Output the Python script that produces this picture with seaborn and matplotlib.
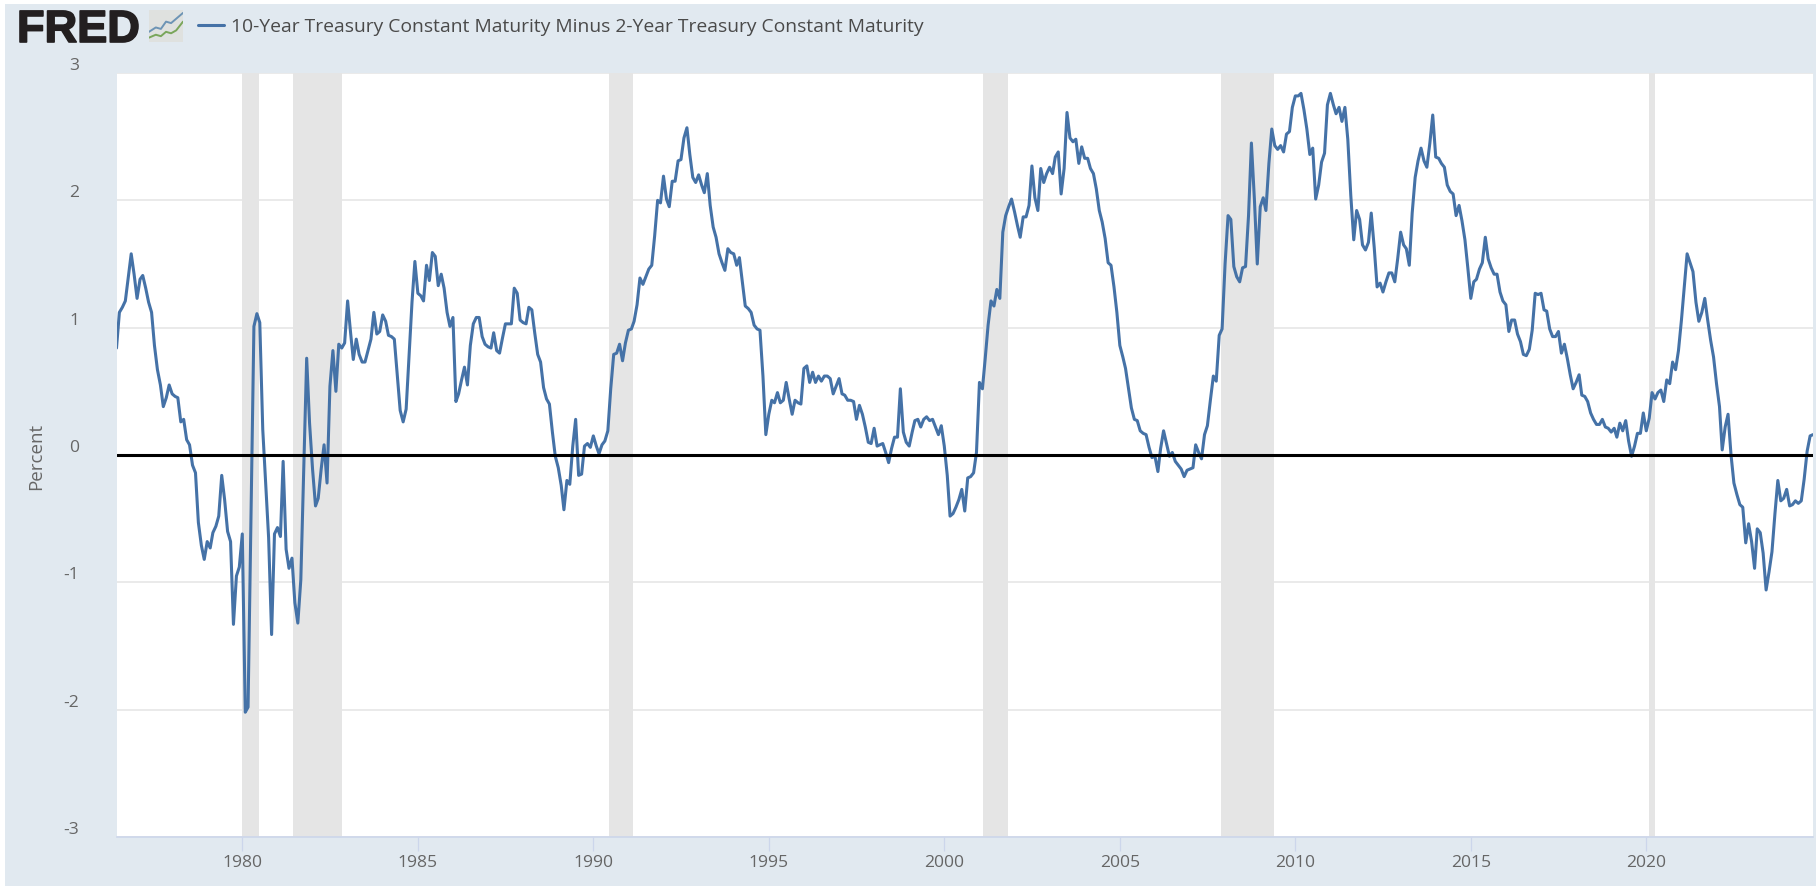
import pandas as pd
import seaborn as sns
import matplotlib.pyplot as plt
import matplotlib.dates as mdates
import matplotlib.patheffects as pe
from matplotlib.patches import Rectangle
from matplotlib.transforms import ScaledTranslation

# valores mensais, um bloco por ano (de jun/1976 a out/2024)
y1976 = [0.84, 1.12, 1.16, 1.21, 1.39, 1.58, 1.42]
y1977 = [1.23, 1.38, 1.41, 1.31, 1.20, 1.12, 0.86, 0.67, 0.55, 0.38, 0.45, 0.55]
y1978 = [0.48, 0.46, 0.45, 0.26, 0.28, 0.12, 0.08, -0.08, -0.14, -0.53, -0.71, -0.82]
y1979 = [-0.68, -0.73, -0.61, -0.56, -0.48, -0.16, -0.35, -0.60, -0.68, -1.33, -0.95, -0.88]
y1980 = [-0.62, -2.02, -1.98, -0.48, 1.01, 1.11, 1.04, 0.20, -0.24, -0.65, -1.41, -0.62]
y1981 = [-0.57, -0.64, -0.05, -0.74, -0.89, -0.81, -1.16, -1.32, -0.98, -0.11, 0.76, 0.25]
y1982 = [-0.11, -0.40, -0.34, -0.11, 0.08, -0.22, 0.54, 0.82, 0.50, 0.87, 0.84, 0.88]
y1983 = [1.21, 0.96, 0.75, 0.91, 0.79, 0.73, 0.73, 0.82, 0.91, 1.12, 0.95, 0.97]
y1984 = [1.10, 1.05, 0.94, 0.93, 0.91, 0.62, 0.35, 0.26, 0.36, 0.78, 1.20, 1.52]
y1985 = [1.27, 1.25, 1.21, 1.49, 1.37, 1.59, 1.56, 1.33, 1.42, 1.31, 1.12, 1.01]
y1986 = [1.08, 0.42, 0.48, 0.59, 0.69, 0.55, 0.86, 1.03, 1.08, 1.08, 0.93, 0.87]
y1987 = [0.85, 0.84, 0.96, 0.82, 0.80, 0.92, 1.03, 1.03, 1.03, 1.31, 1.27, 1.06]
y1988 = [1.04, 1.03, 1.16, 1.14, 0.96, 0.79, 0.73, 0.53, 0.44, 0.40, 0.18, -0.01]
y1989 = [-0.10, -0.24, -0.43, -0.20, -0.23, 0.07, 0.28, -0.16, -0.15, 0.07, 0.09, 0.06]
y1990 = [0.15, 0.07, 0.01, 0.08, 0.11, 0.19, 0.52, 0.79, 0.80, 0.87, 0.74, 0.88]
y1991 = [0.98, 0.99, 1.05, 1.18, 1.39, 1.34, 1.40, 1.46, 1.49, 1.72, 2.00, 1.98]
y1992 = [2.19, 2.01, 1.95, 2.15, 2.15, 2.31, 2.32, 2.49, 2.57, 2.36, 2.18, 2.14]
y1993 = [2.20, 2.12, 2.06, 2.21, 1.96, 1.79, 1.71, 1.58, 1.51, 1.45, 1.62, 1.59]
y1994 = [1.58, 1.49, 1.55, 1.36, 1.17, 1.15, 1.12, 1.02, 0.99, 0.98, 0.62, 0.16]
y1995 = [0.32, 0.43, 0.41, 0.49, 0.41, 0.43, 0.57, 0.44, 0.32, 0.43, 0.41, 0.40]
y1996 = [0.68, 0.70, 0.57, 0.65, 0.57, 0.62, 0.58, 0.62, 0.62, 0.60, 0.48, 0.54]
y1997 = [0.60, 0.48, 0.47, 0.43, 0.43, 0.42, 0.28, 0.39, 0.32, 0.22, 0.10, 0.09]
y1998 = [0.21, 0.07, 0.08, 0.09, 0.02, -0.06, 0.05, 0.14, 0.14, 0.52, 0.18, 0.10]
y1999 = [0.07, 0.18, 0.27, 0.28, 0.22, 0.28, 0.30, 0.27, 0.28, 0.22, 0.16, 0.23]
y2000 = [0.07, -0.16, -0.48, -0.46, -0.41, -0.35, -0.27, -0.44, -0.18, -0.17, -0.14, 0.02]
y2001 = [0.57, 0.52, 0.75, 1.02, 1.21, 1.17, 1.30, 1.23, 1.75, 1.88, 1.95, 2.01]
y2002 = [1.91, 1.80, 1.71, 1.87, 1.87, 1.96, 2.27, 2.02, 1.92, 2.25, 2.14, 2.21]
y2003 = [2.26, 2.21, 2.34, 2.38, 2.05, 2.25, 2.69, 2.49, 2.46, 2.48, 2.29, 2.42]
y2004 = [2.33, 2.33, 2.25, 2.21, 2.09, 1.92, 1.83, 1.70, 1.51, 1.49, 1.32, 1.12]
y2005 = [0.86, 0.77, 0.68, 0.52, 0.37, 0.28, 0.27, 0.19, 0.17, 0.16, 0.06, -0.02]
y2006 = [-0.01, -0.13, 0.05, 0.19, 0.09, -0.01, 0.02, -0.05, -0.08, -0.11, -0.17, -0.12]
y2007 = [-0.11, -0.10, 0.08, 0.02, -0.03, 0.16, 0.23, 0.43, 0.62, 0.58, 0.94, 0.99]
y2008 = [1.50, 1.88, 1.85, 1.48, 1.40, 1.36, 1.47, 1.48, 1.88, 2.45, 2.01, 1.50]
y2009 = [1.95, 2.02, 1.92, 2.29, 2.56, 2.43, 2.40, 2.43, 2.38, 2.52, 2.54, 2.73]
y2010 = [2.82, 2.82, 2.84, 2.71, 2.56, 2.36, 2.41, 2.01, 2.12, 2.30, 2.37, 2.75]
y2011 = [2.84, 2.75, 2.68, 2.73, 2.62, 2.73, 2.48, 2.04, 1.69, 1.92, 1.85, 1.65]
y2012 = [1.61, 1.67, 1.90, 1.63, 1.32, 1.35, 1.28, 1.36, 1.43, 1.43, 1.36, 1.54]
y2013 = [1.75, 1.65, 1.62, 1.49, 1.90, 2.18, 2.31, 2.41, 2.31, 2.26, 2.45, 2.67]
y2014 = [2.34, 2.33, 2.29, 2.26, 2.12, 2.07, 2.05, 1.88, 1.96, 1.84, 1.69, 1.47]
y2015 = [1.23, 1.36, 1.38, 1.46, 1.51, 1.71, 1.54, 1.47, 1.42, 1.42, 1.28, 1.21]
y2016 = [1.18, 0.97, 1.06, 1.06, 0.95, 0.89, 0.79, 0.78, 0.83, 0.98, 1.27, 1.26]
y2017 = [1.27, 1.14, 1.13, 0.99, 0.93, 0.93, 0.97, 0.80, 0.87, 0.76, 0.63, 0.52]
y2018 = [0.57, 0.63, 0.47, 0.46, 0.42, 0.33, 0.28, 0.24, 0.24, 0.28, 0.22, 0.21]
y2019 = [0.18, 0.21, 0.14, 0.25, 0.19, 0.27, 0.11, -0.01, 0.07, 0.17, 0.17, 0.33]
y2020 = [0.19, 0.29, 0.49, 0.44, 0.49, 0.51, 0.42, 0.59, 0.56, 0.73, 0.67, 0.82]
y2021 = [1.06, 1.33, 1.58, 1.51, 1.44, 1.20, 1.05, 1.12, 1.23, 1.06, 0.90, 0.77]
y2022 = [0.56, 0.38, 0.04, 0.22, 0.32, 0.00, -0.22, -0.31, -0.39, -0.41, -0.69, -0.54]
y2023 = [-0.68, -0.89, -0.58, -0.61, -0.77, -1.06, -0.92, -0.76, -0.46, -0.20, -0.36, -0.34]
y2024 = [-0.27, -0.40, -0.39, -0.36, -0.38, -0.36, -0.19, 0.03, 0.15, 0.16]

spread = (y1976 + y1977 + y1978 + y1979 + y1980 + y1981 + y1982 + y1983 + y1984
          + y1985 + y1986 + y1987 + y1988 + y1989 + y1990 + y1991 + y1992 + y1993
          + y1994 + y1995 + y1996 + y1997 + y1998 + y1999 + y2000 + y2001 + y2002
          + y2003 + y2004 + y2005 + y2006 + y2007 + y2008 + y2009 + y2010 + y2011
          + y2012 + y2013 + y2014 + y2015 + y2016 + y2017 + y2018 + y2019 + y2020
          + y2021 + y2022 + y2023 + y2024)

# recessoes (faixas cinza), datas
rec_start = ['1980-01-01', '1981-06-10', '1990-06-10', '2001-02-10', '2007-11-15', '2020-02-01']
rec_end = ['1980-06-20', '1982-11-01', '1991-02-20', '2001-10-20', '2009-05-20', '2020-04-01']

serie_nome = '10-Year Treasury Constant Maturity Minus 2-Year Treasury Constant Maturity'
y_ticks = [-3, -2, -1, 0, 1, 2, 3]

df = pd.DataFrame({'data': pd.date_range('1976-06-01', periods=len(spread), freq='MS'),
                   'spread': spread})

W, H = 1816, 887
FUNDO = '#e1e9f0'
AZUL = '#4572a7'
TEXTO = '#666666'

sns.set_theme(style='white')
plt.rcParams['font.family'] = ['Open Sans', 'DejaVu Sans']
plt.rcParams['axes.unicode_minus'] = False

fig = plt.figure(figsize=(W / 100, H / 100), dpi=100, facecolor='white')
fig.add_artist(Rectangle((5 / W, 0), 1 - 5 / W, 1 - 5 / H, transform=fig.transFigure,
                         facecolor=FUNDO, edgecolor='none', zorder=-10))

# area do grafico em pixels
esq, dir_, topo, base = 116.5, 1813, 74, 838
ax = fig.add_axes([esq / W, 1 - base / H, (dir_ - esq) / W, (base - topo) / H])
ax.set_facecolor('white')

for a, b in zip(rec_start, rec_end):
    ax.axvspan(pd.Timestamp(a), pd.Timestamp(b), color='#e5e5e5', lw=0, zorder=1)

sns.lineplot(data=df, x='data', y='spread', color=AZUL, lw=2.2, ax=ax, zorder=3)
ax.axhline(0, color='black', lw=2.2, zorder=4)

ax.set_xlim(pd.Timestamp('1976-06-01'), pd.Timestamp('2024-10-01'))
ax.set_ylim(-3, 3)
ax.set_yticks(y_ticks)
ax.xaxis.set_major_locator(mdates.YearLocator(5))
ax.xaxis.set_major_formatter(mdates.DateFormatter('%Y'))
ax.grid(axis='y', color='#e6e6e6', lw=1.2, zorder=0)
ax.grid(axis='x', visible=False)
ax.set_axisbelow(True)

for lado in ['top', 'right', 'left']:
    ax.spines[lado].set_visible(False)
ax.spines['bottom'].set_color('#ccd6eb')
ax.spines['bottom'].set_linewidth(1.2)

ax.tick_params(axis='x', length=10, width=0.9, color='#ccd6eb', labelsize=12.6,
               labelcolor=TEXTO, pad=2, bottom=True)
ax.tick_params(axis='y', length=0, labelsize=12.6, labelcolor=TEXTO, pad=27)
# os rotulos do eixo y ficam um pouco acima da linha de grade
for t in ax.get_yticklabels():
    t.set_transform(t.get_transform() + ScaledTranslation(0, 10 / 100, fig.dpi_scale_trans))

ax.set_xlabel('')
ax.set_ylabel('')
fig.text(36 / W, 1 - 456 / H, 'Percent', rotation=90, ha='center', va='center',
         fontsize=13.5, color=TEXTO)

# cabecalho
fred = fig.text(17 / W, 1 - 43 / H, 'FRED', ha='left', va='baseline', fontsize=32.5,
                fontweight='bold', family=['Liberation Sans', 'DejaVu Sans'], color='#231f20')
fred.set_path_effects([pe.withStroke(linewidth=1.2, foreground='#231f20')])
ico = fig.add_axes([149 / W, 1 - 43 / H, 34 / W, 32 / H])
ico.set_facecolor('#dfe1df')
ico.set_xticks([])
ico.set_yticks([])
for lado in ico.spines.values():
    lado.set_visible(False)
ico.plot([0, 2, 3.5, 5, 6.5, 8, 10], [3.5, 5, 4.5, 7, 6.5, 8, 10], color='#6d94b5', lw=1.4)
ico.plot([0, 2, 3.5, 5, 6.5, 8, 10], [1.5, 2.5, 2, 3.5, 3, 4, 7], color='#7aa65a', lw=1.4)
ico.set_xlim(0, 10)
ico.set_ylim(0, 11)

fig.add_artist(plt.Line2D([198 / W, 224 / W], [1 - 26 / H] * 2, color=AZUL, lw=2.2))
fig.text(231 / W, 1 - 27 / H, serie_nome, ha='left', va='center', fontsize=13.9, color='#4a4a4a')

fig.savefig('out.png', dpi=100, facecolor=fig.get_facecolor())
